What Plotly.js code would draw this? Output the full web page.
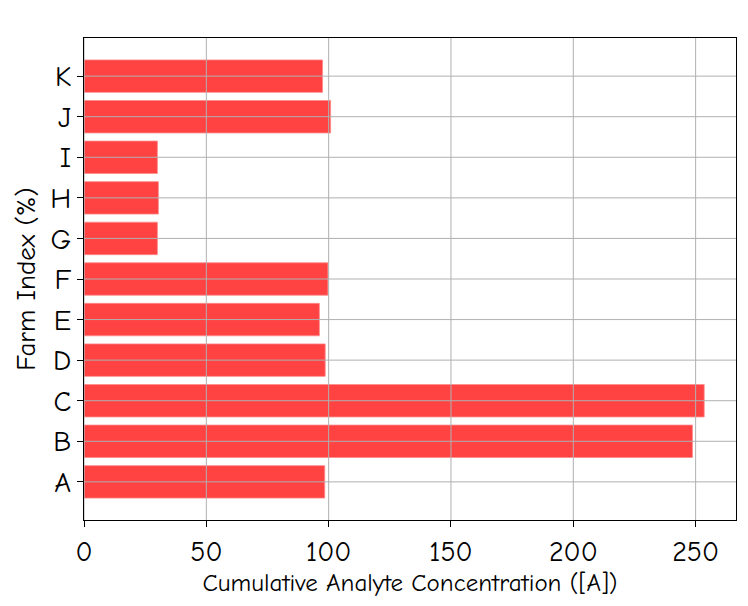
<!DOCTYPE html>
<html>
<head>
<meta charset="utf-8">
<script src="https://cdn.plot.ly/plotly-3.0.1.min.js"></script>
<style>html,body{margin:0;padding:0;background:#fff;}</style>
</head>
<body>
<div id="chart" style="width:748px;height:606px;"></div>
<script>
const categories = ["A","B","C","D","E","F","G","H","I","J","K"];
const values = [98.4, 248.7, 253.5, 98.6, 96.2, 99.7, 30.0, 30.4, 30.0, 100.8, 97.5];
const xTicks = [0, 50, 100, 150, 200, 250];
const xTitle = "Cumulative Analyte Concentration ([A])";
const yTitle = "Farm Index (%)";

const FONT = "'Comic Neue', 'Comic Sans MS', 'DejaVu Sans', sans-serif";
const gridColor = "#b0b0b0";

const shapes = [];
xTicks.forEach(v => shapes.push({type:"line", layer:"above", xref:"x", yref:"paper", x0:v, x1:v, y0:0, y1:1, line:{color:gridColor, width:1}}));
categories.forEach(c => shapes.push({type:"line", layer:"above", xref:"paper", yref:"y", x0:0, x1:1, y0:c, y1:c, line:{color:gridColor, width:1}}));

const trace = {
  type: "bar",
  orientation: "h",
  x: values,
  y: categories,
  width: 0.8,
  marker: {color: "rgba(255,66,66,1)", line: {color: "rgba(255,140,140,1)", width: 0.8}},
  hoverinfo: "x+y"
};

const layout = {
  width: 748, height: 606,
  margin: {l: 84, r: 12, t: 38, b: 86},
  paper_bgcolor: "#fff", plot_bgcolor: "#fff",
  font: {family: FONT, color: "#000"},
  showlegend: false,
  bargap: 0.2,
  xaxis: {
    range: [0, 266.5],
    tickvals: xTicks,
    ticktext: xTicks.map(String),
    tickfont: {size: 28, family: FONT, weight: "normal"},
    ticks: "outside", ticklen: 6, tickcolor: "#000", tickwidth: 1,
    showgrid: false, zeroline: false,
    showline: true, mirror: true, linecolor: "#000", linewidth: 1,
    title: {text: xTitle, font: {size: 25, family: FONT}, standoff: 6}
  },
  yaxis: {
    type: "category",
    categoryorder: "array", categoryarray: categories,
    range: [-0.94, 10.94],
    tickfont: {size: 29, family: FONT},
    ticks: "outside", ticklen: 6, tickcolor: "#000", tickwidth: 1,
    showgrid: false, zeroline: false,
    showline: true, mirror: true, linecolor: "#000", linewidth: 1,
    title: {text: yTitle, font: {size: 27, family: FONT}, standoff: 6}
  },
  shapes: shapes
};

Plotly.newPlot("chart", [trace], layout, {displayModeBar: false, staticPlot: true});
</script>
</body>
</html>
